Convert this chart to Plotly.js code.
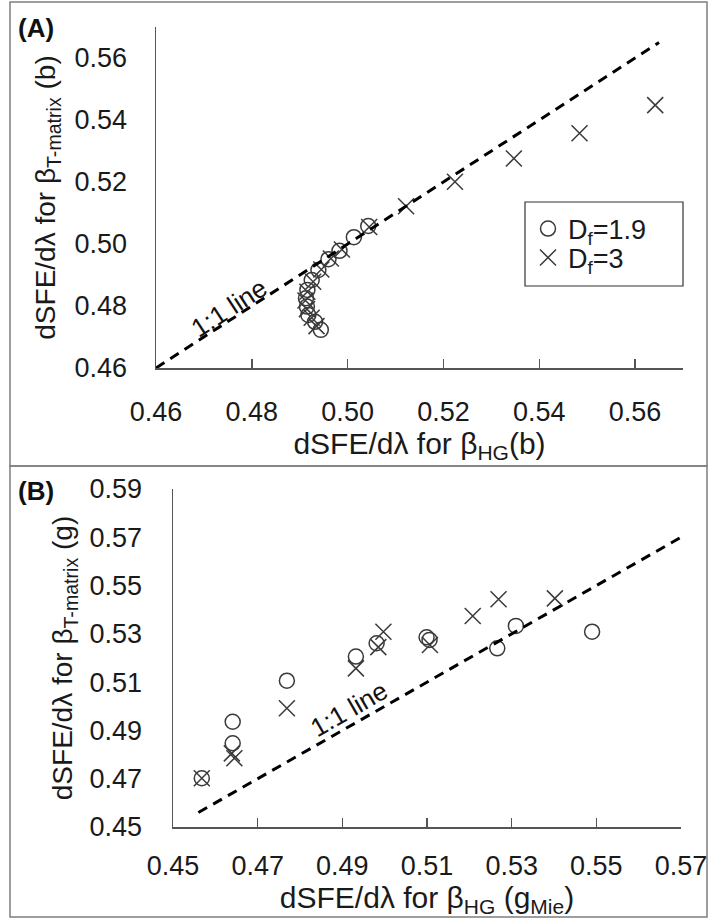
<!DOCTYPE html>
<html>
<head>
<meta charset="utf-8">
<script src="https://cdn.plot.ly/plotly-3.0.1.min.js"></script>
<style>
  html, body { margin: 0; padding: 0; background: #fff; }
  #chart { width: 710px; height: 920px; }
</style>
</head>
<body>
<div id="chart"></div>
<script>
// ---------- Panel A data : dSFE/dλ, β_HG(b) vs β_T-matrix(b) ----------
const aX_Df19 = [0.4944, 0.4932, 0.4918, 0.4915, 0.4913, 0.4916, 0.4925, 0.4939, 0.4960, 0.4983, 0.5013, 0.5043];
const aY_Df19 = [0.4723, 0.4749, 0.4771, 0.4798, 0.4825, 0.4852, 0.4884, 0.4916, 0.4951, 0.4978, 0.5022, 0.5058];
const aX_Df3  = [0.4935, 0.4925, 0.4915, 0.4912, 0.4916, 0.4928, 0.4945, 0.4965, 0.4988, 0.5045, 0.5122, 0.5224, 0.5347, 0.5484, 0.5642];
const aY_Df3  = [0.4735, 0.4762, 0.4790, 0.4818, 0.4846, 0.4878, 0.4918, 0.4953, 0.4982, 0.5055, 0.5122, 0.5201, 0.5276, 0.5357, 0.5448];
const aOneToOne = [0.46, 0.565];

// ---------- Panel B data : dSFE/dλ, β_HG(g_Mie) vs β_T-matrix(g) ----------
const bX_Df19 = [0.4568, 0.4641, 0.4641, 0.4769, 0.4932, 0.4981, 0.5099, 0.5106, 0.5266, 0.5310, 0.5490];
const bY_Df19 = [0.4702, 0.4936, 0.4847, 0.5106, 0.5206, 0.5261, 0.5286, 0.5275, 0.5240, 0.5333, 0.5309];
const bX_Df3  = [0.4568, 0.4639, 0.4645, 0.4769, 0.4932, 0.4985, 0.4997, 0.5107, 0.5208, 0.5269, 0.5402];
const bY_Df3  = [0.4702, 0.4805, 0.4785, 0.4992, 0.5157, 0.5245, 0.5309, 0.5254, 0.5374, 0.5443, 0.5447];
const bOneToOne = [0.456, 0.57];

// ---------- labels ----------
const seriesNames = ['D<sub>f</sub>=1.9', 'D<sub>f</sub>=3'];
const lineLabel = '1:1 line';
const aXTitle = 'dSFE/dλ for β<sub>HG</sub>(b)';
const aYTitle = 'dSFE/dλ for β<sub>T-matrix</sub> (b)';
const bXTitle = 'dSFE/dλ for β<sub>HG</sub> (g<sub>Mie</sub>)';
const bYTitle = 'dSFE/dλ for β<sub>T-matrix</sub> (g)';
const panelLabels = ['(A)', '(B)'];

const FONT = 'Liberation Sans, Arial, sans-serif';
const MK = '#3a3a3a';
const W = 710, H = 920;
const px = v => v / W;
const py = v => 1 - v / H;

const circ = { symbol: 'circle-open', size: 15, color: MK, line: { width: 1.5, color: MK } };
const cross = { symbol: 'x-thin-open', size: 16, color: MK, line: { width: 1.5, color: MK } };
const dashLine = { color: '#000', width: 3, dash: '10px,7px' };

const traces = [
  { x: aX_Df19, y: aY_Df19, xaxis: 'x', yaxis: 'y', mode: 'markers', name: seriesNames[0], marker: circ, legend: 'legend', showlegend: true },
  { x: aX_Df3, y: aY_Df3, xaxis: 'x', yaxis: 'y', mode: 'markers', name: seriesNames[1], marker: cross, legend: 'legend2', showlegend: true },
  { x: aOneToOne, y: aOneToOne, xaxis: 'x', yaxis: 'y', mode: 'lines', line: dashLine, showlegend: false, hoverinfo: 'skip' },
  { x: bX_Df19, y: bY_Df19, xaxis: 'x2', yaxis: 'y2', mode: 'markers', name: seriesNames[0], marker: circ, showlegend: false },
  { x: bX_Df3, y: bY_Df3, xaxis: 'x2', yaxis: 'y2', mode: 'markers', name: seriesNames[1], marker: cross, showlegend: false },
  { x: bOneToOne, y: bOneToOne, xaxis: 'x2', yaxis: 'y2', mode: 'lines', line: dashLine, showlegend: false, hoverinfo: 'skip' }
];

const tickFont = { family: FONT, size: 27, color: '#1a1a1a' };
const xTitleFont = { family: FONT, size: 30, color: '#1a1a1a' };
const yTitleFont = { family: FONT, size: 28, color: '#1a1a1a' };
const axLine = { showline: true, linecolor: '#555', linewidth: 1.5, zeroline: false, showgrid: false, tickformat: '.2f', tickfont: tickFont, fixedrange: true };
const legendBase = {
  xanchor: 'left', yanchor: 'middle', bgcolor: 'rgba(0,0,0,0)', borderwidth: 0,
  font: { family: FONT, size: 27, color: '#1a1a1a' }, itemwidth: 30
};

const layout = {
  width: W, height: H,
  margin: { l: 0, r: 0, t: 0, b: 0 },
  paper_bgcolor: '#fff', plot_bgcolor: '#fff',
  font: { family: FONT, color: '#1a1a1a' },
  showlegend: true,
  legend: Object.assign({}, legendBase, { x: px(528), y: py(229) }),
  legend2: Object.assign({}, legendBase, { x: px(528), y: py(258) }),
  xaxis: Object.assign({}, axLine, {
    domain: [px(156), px(683)], range: [0.46, 0.57], anchor: 'y',
    tick0: 0.46, dtick: 0.02, ticks: 'inside', ticklen: 9, tickcolor: '#555', tickwidth: 1.5,
    ticklabelstandoff: 19,
    title: { text: aXTitle, font: xTitleFont, standoff: 5 }
  }),
  yaxis: Object.assign({}, axLine, {
    domain: [py(368), py(27)], range: [0.46, 0.57], anchor: 'x',
    tick0: 0.46, dtick: 0.02, ticks: '',
    ticklabelstandoff: 22,
    title: { text: aYTitle, font: yTitleFont, standoff: 10 }
  }),
  xaxis2: Object.assign({}, axLine, {
    domain: [px(173), px(681)], range: [0.45, 0.57], anchor: 'y2',
    tick0: 0.45, dtick: 0.02, ticks: 'inside', ticklen: 9, tickcolor: '#555', tickwidth: 1.5,
    ticklabelstandoff: 14,
    title: { text: bXTitle, font: xTitleFont, standoff: 5 }
  }),
  yaxis2: Object.assign({}, axLine, {
    domain: [py(827), py(489)], range: [0.45, 0.59], anchor: 'x2',
    tick0: 0.45, dtick: 0.02, ticks: '',
    ticklabelstandoff: 24,
    title: { text: bYTitle, font: yTitleFont, standoff: 8 }
  }),
  annotations: [
    { xref: 'paper', yref: 'paper', x: px(16), y: py(11), xanchor: 'left', yanchor: 'top', showarrow: false,
      text: '<b>' + panelLabels[0] + '</b>', font: { family: FONT, size: 26, color: '#111' } },
    { xref: 'paper', yref: 'paper', x: px(16), y: py(474), xanchor: 'left', yanchor: 'top', showarrow: false,
      text: '<b>' + panelLabels[1] + '</b>', font: { family: FONT, size: 26, color: '#111' } },
    { xref: 'x', yref: 'y', x: 0.4752, y: 0.4794, showarrow: false, textangle: -33,
      text: lineLabel, font: { family: FONT, size: 26, color: '#111' } },
    { xref: 'x2', yref: 'y2', x: 0.4916, y: 0.4989, showarrow: false, textangle: -30,
      text: lineLabel, font: { family: FONT, size: 26, color: '#111' } }
  ],
  shapes: [
    { type: 'rect', xref: 'paper', yref: 'paper', x0: px(10), x1: px(707), y0: py(466), y1: py(2),
      line: { color: '#7f7f7f', width: 1.5 }, layer: 'below' },
    { type: 'rect', xref: 'paper', yref: 'paper', x0: px(10), x1: px(707), y0: py(917), y1: py(466),
      line: { color: '#7f7f7f', width: 1.5 }, layer: 'below' },
    { type: 'rect', xref: 'paper', yref: 'paper', x0: px(525), x1: px(683), y0: py(286), y1: py(202),
      line: { color: '#333', width: 1.2 }, fillcolor: '#fff', layer: 'below' }
  ]
};

Plotly.newPlot('chart', traces, layout, { staticPlot: true, displayModeBar: false });
</script>
</body>
</html>
